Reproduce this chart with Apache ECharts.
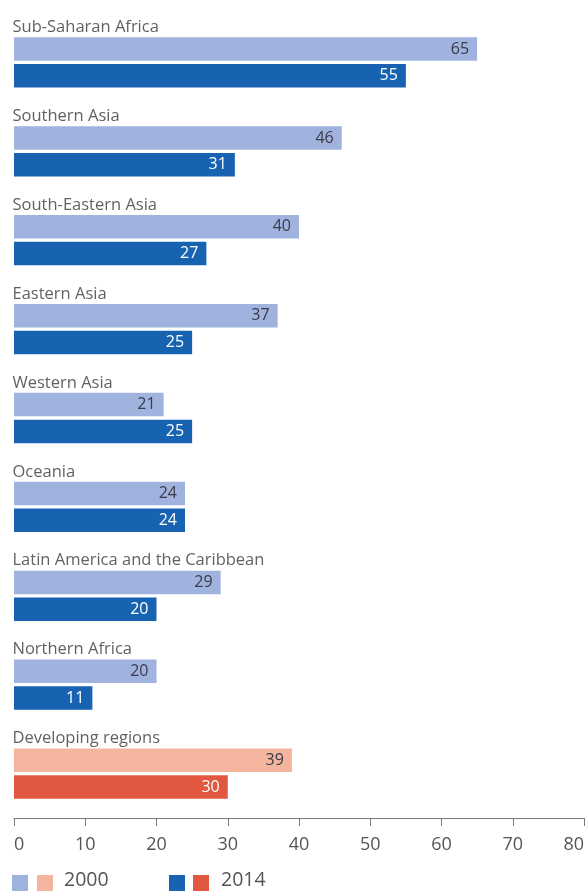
<!DOCTYPE html>
<html>
<head>
<meta charset="utf-8">
<script src="https://cdn.jsdelivr.net/npm/echarts@6/dist/echarts.min.js"></script>
<style>
html,body{margin:0;padding:0;background:#fff;}
#chart{width:587px;height:893px;}
</style>
</head>
<body>
<div id="chart"></div>
<script>
const categories = ["Sub-Saharan Africa","Southern Asia","South-Eastern Asia","Eastern Asia","Western Asia","Oceania","Latin America and the Caribbean","Northern Africa","Developing regions"];
const values2000 = [65,46,40,37,21,24,29,20,39];
const values2014 = [55,31,27,25,25,24,20,11,30];
const xTicks = [0,10,20,30,40,50,60,70,80];
const legendLabels = ["2000","2014"];

const FONT = "Open Sans";
const C = {
  light: "#a0b3de", dark: "#1763b1",
  lightDev: "#f3b59e", darkDev: "#e1573f",
  text: "#383838", axis: "#7a7a7a"
};
const devIdx = categories.length - 1;

const chart = echarts.init(document.getElementById('chart'), null, {renderer:'canvas'});
chart.setOption({
  animation: false,
  grid: {left: 14, right: 3, top: 18, height: 800, containLabel: false},
  xAxis: {
    type: 'value', min: xTicks[0], max: xTicks[xTicks.length-1], interval: 10,
    axisLine: {show: true, lineStyle: {color: C.axis, width: 1}},
    axisTick: {show: true, length: 8, lineStyle: {color: C.axis}},
    splitLine: {show: false},
    axisLabel: {fontFamily: FONT, fontSize: 18, color: '#555', margin: 18,
      alignMinLabel: 'left', alignMaxLabel: 'right'}
  },
  yAxis: {
    type: 'category', data: categories, inverse: true,
    axisLine: {show: false}, axisTick: {show: false},
    axisLabel: {show: false}
  },
  series: [
    {
      name: legendLabels[0], type: 'bar', barWidth: 23.5, barGap: '14%',
      data: values2000.map((v,i) => i === devIdx ? {value: v, itemStyle: {color: C.lightDev}} : v),
      itemStyle: {color: C.light},
      label: {show: true, position: 'insideRight', distance: 8, fontFamily: FONT, fontSize: 16, color: '#3a3a48'}
    },
    {
      name: legendLabels[1], type: 'bar', barWidth: 23.5, barGap: '14%',
      data: values2014.map((v,i) => i === devIdx ? {value: v, itemStyle: {color: C.darkDev}} : v),
      itemStyle: {color: C.dark},
      label: {show: true, position: 'insideRight', distance: 8, fontFamily: FONT, fontSize: 16, color: '#ffffff'}
    },
    {
      name: 'categoryLabels', type: 'scatter', symbolSize: 0, silent: true,
      data: categories.map(c => [0, c]),
      label: {show: true, position: 'inside', align: 'left', verticalAlign: 'middle',
        offset: [-1.5, -35], fontFamily: FONT, fontSize: 16.5, color: C.text,
        formatter: p => p.value[1]}
    }
  ],
  graphic: [
    {type: 'rect', left: 12, top: 875, shape: {width: 16, height: 16}, style: {fill: C.light}},
    {type: 'rect', left: 37, top: 875, shape: {width: 16, height: 16}, style: {fill: C.lightDev}},
    {type: 'text', left: 64, top: 870, style: {text: legendLabels[0], font: '19.5px "Open Sans"', fill: '#555'}},
    {type: 'rect', left: 169, top: 875, shape: {width: 16, height: 16}, style: {fill: C.dark}},
    {type: 'rect', left: 193, top: 875, shape: {width: 16, height: 16}, style: {fill: C.darkDev}},
    {type: 'text', left: 221, top: 870, style: {text: legendLabels[1], font: '19.5px "Open Sans"', fill: '#555'}}
  ]
});
</script>
</body>
</html>
